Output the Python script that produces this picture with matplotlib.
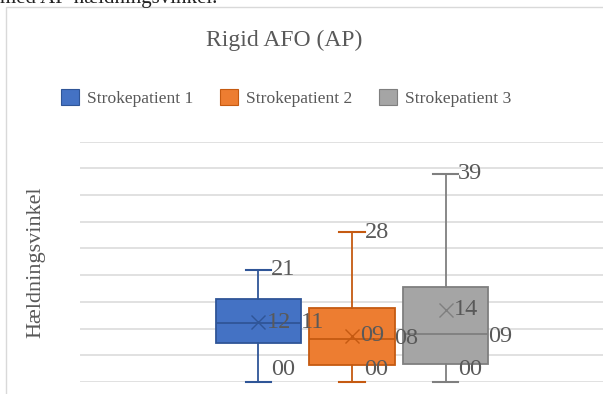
import matplotlib
matplotlib.use("Agg")
import matplotlib.pyplot as plt
from matplotlib.patches import Patch, Rectangle

categories = ["Strokepatient 1", "Strokepatient 2", "Strokepatient 3"]
mins = [0, 0, 0]
q1s = [7.3, 3.2, 3.3]
medians = [11.1, 8.1, 8.9]
q3s = [15.6, 13.8, 17.8]
maxs = [21, 28, 39]
means = [11.2, 8.7, 13.5]
min_labels = ["00", "00", "00"]
max_labels = ["21", "28", "39"]
median_labels = ["11", "08", "09"]
mean_labels = ["12", "09", "14"]
yticks = [0, 5, 10, 15, 20, 25, 30, 35, 40, 45]

fill_colors = ["#4472C4", "#ED7D31", "#A5A5A5"]
edge_colors = ["#2F5597", "#C55A11", "#7F7F7F"]
text_color = "#595959"

plt.rcParams["font.family"] = ["Liberation Serif", "DejaVu Serif"]

W, H = 603, 394
fig = plt.figure(figsize=(W / 100, H / 100), dpi=100)

# chart border
fig.patches.append(Rectangle((6 / W, -0.05), 1.0, 1 - 7 / H + 0.05, transform=fig.transFigure,
                             fill=False, edgecolor="#D9D9D9", linewidth=1.0))

# cropped document text above chart
fig.text(0.0, 1 - 3 / H, "med AP-hældningsvinkel.", ha="left", va="baseline",
         fontsize=15, color="#222222")

ax = fig.add_axes([80 / W, (H - 382) / H, (W - 80) / W, (382 - 141.7) / H])
ax.set_ylim(0, 45)
pos = [0, 1, 2]
ax.set_xlim(-1.903, 3.68)
ax.set_yticks(yticks)
ax.yaxis.grid(True, color="#D9D9D9", linewidth=1.1)
ax.set_axisbelow(True)
ax.tick_params(left=False, bottom=False, labelleft=False, labelbottom=False)
for s in ax.spines.values():
    s.set_visible(False)

for i in range(3):
    st = [dict(med=medians[i], q1=q1s[i], q3=q3s[i], whislo=mins[i], whishi=maxs[i],
               mean=means[i], fliers=[])]
    ec = edge_colors[i]
    ax.bxp(st, positions=[pos[i]], widths=0.91, capwidths=0.27, patch_artist=True,
           showmeans=True,
           boxprops=dict(facecolor=fill_colors[i], edgecolor=ec, linewidth=1.3),
           whiskerprops=dict(color=ec, linewidth=1.3),
           capprops=dict(color=ec, linewidth=1.5),
           medianprops=dict(color=ec, linewidth=1.3),
           meanprops=dict(marker="x", markeredgecolor=ec, markersize=10, markeredgewidth=1.0),
           manage_ticks=False)
    for art in ax.lines[-6:]:
        art.set_clip_on(False)
    ax.patches[-1].set_clip_on(False)

    fs = 17.5
    ax.text(pos[i] + 0.135, maxs[i], max_labels[i], ha="left", va="center",
            fontsize=fs, color=text_color, clip_on=False)
    ax.text(pos[i] + 0.135, mins[i] + 0.4, min_labels[i], ha="left", va="bottom",
            fontsize=fs, color=text_color, clip_on=False)
    ax.text(pos[i] + 0.455, medians[i] - (0.4 if i == 2 else 0), median_labels[i],
            ha="left", va="center", fontsize=fs, color=text_color, clip_on=False)
    ax.text(pos[i] + 0.09, means[i], mean_labels[i], ha="left", va="center",
            fontsize=fs, color=text_color, clip_on=False)

fig.text(284 / W, 1 - 40 / H, "Rigid AFO (AP)", ha="center", va="center",
         fontsize=17, color=text_color)

fig.text(36 / W, 1 - 262 / H, "Hældningsvinkel", ha="center", va="center",
         rotation=90, fontsize=16, color=text_color)

handles = [Patch(facecolor=fill_colors[i], edgecolor=edge_colors[i], linewidth=0.8)
           for i in range(3)]
fig.legend(handles, categories, loc="center", bbox_to_anchor=(286 / W, 1 - 98 / H),
           ncol=3, frameon=False, fontsize=12.6, handlelength=1.05, handleheight=1.05,
           handletextpad=0.45, columnspacing=1.5, labelcolor=text_color)

fig.savefig("out.png", dpi=100)
